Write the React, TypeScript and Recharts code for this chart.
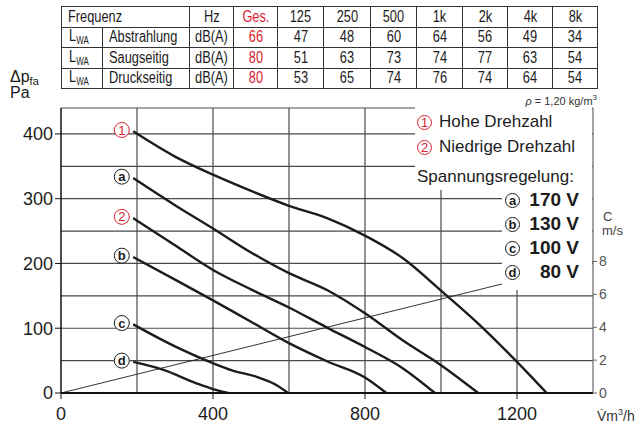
import React from 'react';
import { LineChart, Line, XAxis, YAxis, ReferenceLine, ReferenceDot } from 'recharts';

interface Pt {
  x: number;
  y: number;
}

// sound power table
const FREQS = ['125', '250', '500', '1k', '2k', '4k', '8k'];
const ROW_NAMES = ['Abstrahlung', 'Saugseitig', 'Druckseitig'];
const GES = [66, 80, 80];
const ABSTRAHLUNG = [47, 48, 60, 64, 56, 49, 34];
const SAUGSEITIG = [51, 63, 73, 74, 77, 63, 54];
const DRUCKSEITIG = [53, 65, 74, 76, 74, 64, 54];

// fan curves, V m3/h vs dp Pa
const CURVE_HIGH: Pt[] = [
  { x: 190, y: 404 }, { x: 300, y: 365 }, { x: 400, y: 337 }, { x: 500, y: 312 },
  { x: 600, y: 289 }, { x: 700, y: 270 }, { x: 800, y: 243 }, { x: 900, y: 208 },
  { x: 1000, y: 158 }, { x: 1100, y: 106 }, { x: 1200, y: 48 }, { x: 1278, y: 0 },
];
const CURVE_A: Pt[] = [
  { x: 190, y: 332 }, { x: 300, y: 290 }, { x: 400, y: 254 }, { x: 500, y: 217 },
  { x: 600, y: 185 }, { x: 700, y: 159 }, { x: 800, y: 123 }, { x: 900, y: 81 },
  { x: 1000, y: 43 }, { x: 1098, y: 0 },
];
const CURVE_LOW: Pt[] = [
  { x: 190, y: 270 }, { x: 300, y: 228 }, { x: 400, y: 190 }, { x: 500, y: 160 },
  { x: 600, y: 132 }, { x: 700, y: 101 }, { x: 800, y: 71 }, { x: 900, y: 38 },
  { x: 984, y: 0 },
];
const CURVE_B: Pt[] = [
  { x: 190, y: 210 }, { x: 300, y: 175 }, { x: 400, y: 143 }, { x: 500, y: 110 },
  { x: 600, y: 77 }, { x: 700, y: 49 }, { x: 800, y: 24 }, { x: 856, y: 0 },
];
const CURVE_C: Pt[] = [
  { x: 190, y: 106 }, { x: 300, y: 72 }, { x: 400, y: 46 }, { x: 450, y: 35 },
  { x: 515, y: 25 }, { x: 558, y: 15 }, { x: 598, y: 0 },
];
const CURVE_D: Pt[] = [
  { x: 190, y: 48 }, { x: 268, y: 36 }, { x: 356, y: 15 }, { x: 400, y: 6 }, { x: 440, y: 0 },
];
// air velocity C m/s
const VELOCITY: Pt[] = [{ x: 0, y: 0 }, { x: 1400, y: 8 }];

const CURVES = [
  { key: 'high', data: CURVE_HIGH, mark: '1', red: true },
  { key: 'a', data: CURVE_A, mark: 'a', red: false },
  { key: 'low', data: CURVE_LOW, mark: '2', red: true },
  { key: 'b', data: CURVE_B, mark: 'b', red: false },
  { key: 'c', data: CURVE_C, mark: 'c', red: false },
  { key: 'd', data: CURVE_D, mark: 'd', red: false },
];

const X_TICKS = [0, 400, 800, 1200];
const Y_TICKS = [0, 100, 200, 300, 400];
const C_TICKS = [0, 2, 4, 6, 8];
const GRID_X = [200, 400, 600, 800, 1000, 1200];
const GRID_Y = [50, 100, 150, 200, 250, 300, 350, 400];
const X_MAX = 1400;
const Y_MAX = 440;
const C_MAX = (Y_MAX * 8) / 203;

const VOLTAGES = [
  { mark: 'a', text: '170 V' },
  { mark: 'b', text: '130 V' },
  { mark: 'c', text: '100 V' },
  { mark: 'd', text: '80 V' },
];

const RED = '#d8232f';
const INK = '#1c1c1c';
const SANS = '"Liberation Sans", Arial, Helvetica, sans-serif';

const Circ = ({ ch, red, size = 15 }: { ch: string; red?: boolean; size?: number }) => (
  <span
    style={{
      display: 'inline-flex',
      width: size,
      height: size,
      borderRadius: '50%',
      border: `1px solid ${red ? RED : INK}`,
      alignItems: 'center',
      justifyContent: 'center',
      fontSize: size - 2,
      fontWeight: red ? 400 : 700,
      color: red ? RED : INK,
      lineHeight: 1,
      boxSizing: 'border-box',
      fontFamily: SANS,
    }}
  >
    {ch}
  </span>
);

const CurveMark = (mark: string, red: boolean) => (props: any) => {
  const { cx, cy } = props;
  const c = red ? RED : INK;
  return (
    <g>
      <circle cx={cx} cy={cy} r={7.5} fill="#fff" stroke={c} strokeWidth={1} />
      <text
        x={cx}
        y={cy + 4.5}
        textAnchor="middle"
        fontSize={13}
        fontWeight={red ? 400 : 700}
        fill={c}
        fontFamily={SANS}
      >
        {mark}
      </text>
    </g>
  );
};

const cell: React.CSSProperties = {
  border: '1px solid #333',
  padding: 0,
  height: 19.5,
  textAlign: 'center',
  verticalAlign: 'middle',
  whiteSpace: 'nowrap',
  overflow: 'hidden',
};

// condensed look: the narrow face is not installed, so squeeze the regular one
const N = ({ children, left }: { children: React.ReactNode; left?: boolean }) => (
  <span
    style={{
      display: 'inline-block',
      transform: 'scaleX(0.8)',
      transformOrigin: left ? 'left center' : 'center center',
    }}
  >
    {children}
  </span>
);

const SoundTable = () => {
  const rows = [ABSTRAHLUNG, SAUGSEITIG, DRUCKSEITIG];
  return (
    <table
      style={{
        position: 'absolute',
        left: 61,
        top: 6,
        width: 536,
        borderCollapse: 'collapse',
        tableLayout: 'fixed',
        fontFamily: SANS,
        fontSize: 16,
        color: INK,
        lineHeight: 1,
        border: '1.5px solid #333',
      }}
    >
      <colgroup>
        {[41, 87, 44, 44, 46, 47, 46, 46, 45, 45, 45].map((w, i) => (
          <col key={i} style={{ width: w }} />
        ))}
      </colgroup>
      <tbody>
        <tr>
          <td colSpan={2} style={{ ...cell, textAlign: 'left', paddingLeft: 6 }}>
            <N left>Frequenz</N>
          </td>
          <td style={cell}><N>Hz</N></td>
          <td style={{ ...cell, color: RED }}><N>Ges.</N></td>
          {FREQS.map((f) => (
            <td key={f} style={cell}><N>{f}</N></td>
          ))}
        </tr>
        {rows.map((vals, r) => (
          <tr key={r}>
            <td style={{ ...cell, textAlign: 'left', paddingLeft: 7 }}>
              <N left>
                L<sub style={{ fontSize: 10, verticalAlign: -3 }}>WA</sub>
              </N>
            </td>
            <td style={{ ...cell, textAlign: 'left', paddingLeft: 6 }}>
              <N left>{ROW_NAMES[r]}</N>
            </td>
            <td style={cell}><N>dB(A)</N></td>
            <td style={{ ...cell, color: RED }}><N>{GES[r]}</N></td>
            {vals.map((v, i) => (
              <td key={i} style={cell}><N>{v}</N></td>
            ))}
          </tr>
        ))}
      </tbody>
    </table>
  );
};

export default function App() {
  return (
    <div
      style={{
        position: 'absolute',
        left: 0,
        top: 0,
        width: 640,
        height: 428,
        background: '#fff',
        fontFamily: SANS,
        color: INK,
        overflow: 'hidden',
      }}
    >
      <div style={{ position: 'absolute', left: 0, top: 0 }}>
        <LineChart width={640} height={428} margin={{ top: 108, right: 7, bottom: 5, left: 11 }}>
          <XAxis
            type="number"
            dataKey="x"
            domain={[0, X_MAX]}
            ticks={X_TICKS}
            allowDataOverflow
            height={30}
            tickSize={6}
            stroke="#111"
            axisLine={{ stroke: '#111', strokeWidth: 2 }}
            tick={{ fill: INK, fontSize: 18, fontFamily: SANS, dy: 6 }}
          />
          <YAxis
            yAxisId="left"
            type="number"
            domain={[0, Y_MAX]}
            ticks={Y_TICKS}
            allowDataOverflow
            width={50}
            tickSize={6}
            stroke="#111"
            axisLine={{ stroke: '#111', strokeWidth: 1.5 }}
            tick={{ fill: INK, fontSize: 18, fontFamily: SANS }}
          />
          <YAxis
            yAxisId="right"
            orientation="right"
            type="number"
            domain={[0, C_MAX]}
            ticks={C_TICKS}
            allowDataOverflow
            width={40}
            tickSize={4}
            stroke="#666"
            axisLine={{ stroke: '#666', strokeWidth: 1.2 }}
            tick={{ fill: '#555', fontSize: 14, fontFamily: SANS }}
          />
          {GRID_Y.map((v) => (
            <ReferenceLine key={'gy' + v} yAxisId="left" y={v} stroke="#4a4a4a" strokeWidth={1.2} />
          ))}
          {GRID_X.map((v) => (
            <ReferenceLine key={'gx' + v} yAxisId="left" x={v} stroke="#4a4a4a" strokeWidth={1.2} />
          ))}
          <ReferenceLine yAxisId="left" y={Y_MAX} stroke="#4a4a4a" strokeWidth={1.2} />
          <Line
            yAxisId="right"
            data={VELOCITY}
            dataKey="y"
            type="linear"
            dot={false}
            stroke={INK}
            strokeWidth={0.9}
            isAnimationActive={false}
          />
          {CURVES.map((c) => (
            <Line
              key={c.key}
              yAxisId="left"
              data={c.data}
              dataKey="y"
              type="monotone"
              dot={false}
              stroke={INK}
              strokeWidth={2.4}
              isAnimationActive={false}
            />
          ))}
          {CURVES.map((c) => (
            <ReferenceDot
              key={'m' + c.key}
              yAxisId="left"
              x={c.data[0].x - 30}
              y={c.data[0].y + 2}
              r={8}
              shape={CurveMark(c.mark, c.red)}
            />
          ))}
        </LineChart>
      </div>

      <SoundTable />

      <div style={{ position: 'absolute', left: 10, top: 69, fontSize: 16, lineHeight: '16px' }}>
        Δp<sub style={{ fontSize: 11, verticalAlign: -3 }}>fa</sub>
      </div>
      <div style={{ position: 'absolute', left: 10, top: 85, fontSize: 16, lineHeight: '16px' }}>Pa</div>
      <div style={{ position: 'absolute', right: 43, top: 91, fontSize: 11, lineHeight: '13px', color: '#333' }}>
        <i>ρ</i> = 1,20 kg/m<sup style={{ fontSize: 8 }}>3</sup>
      </div>
      <div style={{ position: 'absolute', left: 603, top: 210, fontSize: 13, lineHeight: '14px', color: '#444' }}>C</div>
      <div style={{ position: 'absolute', left: 602, top: 224, fontSize: 13, lineHeight: '14px', color: '#444' }}>m/s</div>
      <div style={{ position: 'absolute', left: 597, top: 404, fontSize: 14, lineHeight: '16px', color: '#333' }}>
        V̇m<sup style={{ fontSize: 9 }}>3</sup>/h
      </div>

      {/* legend box */}
      <div style={{ position: 'absolute', left: 415, top: 107, width: 177, height: 83, background: '#fff' }} />
      <div style={{ position: 'absolute', left: 502, top: 188, width: 90, height: 102, background: '#fff' }} />
      <div style={{ position: 'absolute', left: 417, top: 113, fontSize: 17, lineHeight: '18px', display: 'flex', alignItems: 'center', gap: 7 }}>
        <Circ ch="1" red />
        <span>Hohe Drehzahl</span>
      </div>
      <div style={{ position: 'absolute', left: 417, top: 138, fontSize: 17, lineHeight: '18px', display: 'flex', alignItems: 'center', gap: 7 }}>
        <Circ ch="2" red />
        <span>Niedrige Drehzahl</span>
      </div>
      <div style={{ position: 'absolute', left: 417, top: 168, fontSize: 17, lineHeight: '18px' }}>Spannungsregelung:</div>
      {VOLTAGES.map((v, i) => (
        <div
          key={v.mark}
          style={{
            position: 'absolute',
            left: 505,
            top: 190 + i * 24,
            width: 74,
            display: 'flex',
            alignItems: 'center',
            justifyContent: 'space-between',
            fontSize: 19,
            fontWeight: 700,
            lineHeight: '20px',
          }}
        >
          <Circ ch={v.mark} />
          <span>{v.text}</span>
        </div>
      ))}
    </div>
  );
}
